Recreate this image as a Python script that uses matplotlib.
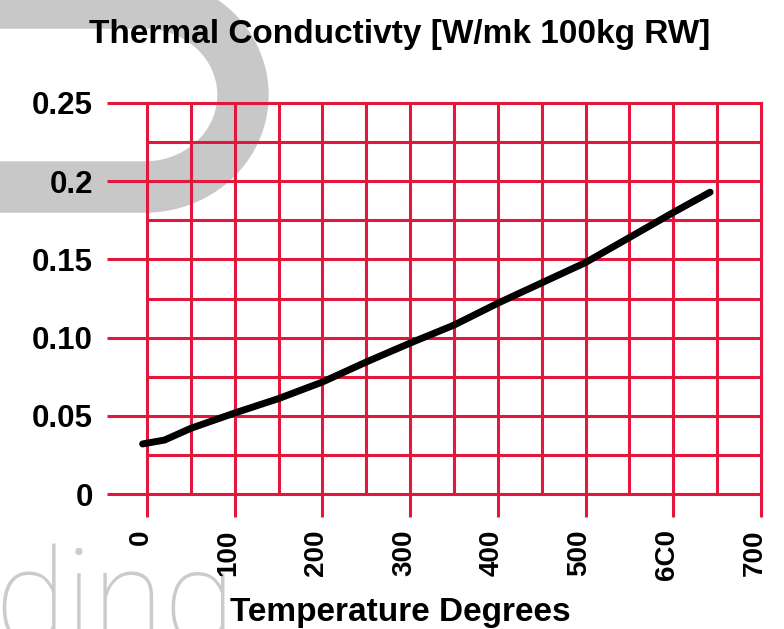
import numpy as np
import matplotlib
matplotlib.use("Agg")
import matplotlib.pyplot as plt
import matplotlib.transforms as mtransforms
from matplotlib.lines import Line2D

# ---------------- data ----------------
temperature = [-5, 20, 50, 100, 150, 200, 250, 300, 350, 400, 450, 500, 550, 600, 642]
conductivity = [0.032, 0.0345, 0.042, 0.0518, 0.061, 0.0716, 0.0844, 0.0965,
                0.108, 0.122, 0.135, 0.148, 0.164, 0.180, 0.193]

x_ticks = [0, 100, 200, 300, 400, 500, 600, 700]
x_tick_labels = ["0", "100", "200", "300", "400", "500", "6C0", "700"]
x_minor = [50, 150, 250, 350, 450, 550, 650]
y_ticks = [0, 0.05, 0.10, 0.15, 0.20, 0.25]
y_tick_labels = ["0", "0.05", "0.10", "0.15", "0.2", "0.25"]
y_minor = [0.025, 0.075, 0.125, 0.175, 0.225]

title = "Thermal Conductivty [W/mk 100kg RW]"
xlabel = "Temperature Degrees"

RED = "#e3173c"
GRAY = "#c8c8c8"
FONT = ["Liberation Sans", "DejaVu Sans"]

W, H = 784, 629
fig = plt.figure(figsize=(W / 100, H / 100), dpi=100)
fig.patch.set_facecolor("white")

# ---------------- watermark (decoration) ----------------
cx, cy = 145, 629 - 95
rx, ry = 98, 92
theta = np.linspace(np.pi / 2, -np.pi / 2, 100)
px = np.concatenate([[-30], cx + rx * np.cos(theta), [-30]])
py = np.concatenate([[cy + ry], cy + ry * np.sin(theta), [cy - ry]])
fig.add_artist(Line2D(px / W, py / H, transform=fig.transFigure, color=GRAY,
                      lw=37, solid_capstyle="butt", solid_joinstyle="round", zorder=-5))
fig.text(-6 / W, -14 / H, "ding", fontsize=94, color="#cbcbcb", family=["Roboto", "DejaVu Sans"],
         fontweight="light", ha="left", va="baseline", zorder=-5)

# ---------------- axes ----------------
ax = fig.add_axes([147 / W, 135 / H, 614 / W, 391 / H])
ax.patch.set_alpha(0)
for s in ax.spines.values():
    s.set_visible(False)

ax.set_xlim(0, 700)
ax.set_ylim(0, 0.25)
ax.set_xticks(x_ticks)
ax.set_xticklabels(x_tick_labels, rotation=90, fontsize=20, fontweight="bold", family=FONT)
ax.set_xticks(x_minor, minor=True)
ax.set_yticks(y_ticks)
ax.set_yticklabels(y_tick_labels, fontsize=22.5, fontweight="bold", family=FONT)
ax.set_yticks(y_minor, minor=True)

ax.grid(which="both", color=RED, lw=2.2)
ax.set_axisbelow(True)
ax.tick_params(axis="y", which="major", length=28.8, width=2.2, color=RED, pad=10)
ax.tick_params(axis="x", which="major", length=16.5, width=2.2, color=RED, pad=9)
ax.tick_params(which="minor", length=0)

for t in (ax.xaxis.get_major_ticks() + ax.xaxis.get_minor_ticks()
          + ax.yaxis.get_major_ticks() + ax.yaxis.get_minor_ticks()):
    t.gridline.set_clip_on(False)

offset = mtransforms.ScaledTranslation(-6 / 100, 0, fig.dpi_scale_trans)
for lab in ax.get_xticklabels():
    lab.set_transform(lab.get_transform() + offset)

ax.plot(temperature, conductivity, color="black", lw=5, solid_capstyle="round",
        solid_joinstyle="round", zorder=5, clip_on=False)

fig.text(400 / W, 1 - 43 / H, title, fontsize=24, fontweight="bold", family=FONT,
         ha="center", va="baseline")
fig.text(400 / W, 1 - 621 / H, xlabel, fontsize=24, fontweight="bold", family=FONT,
         ha="center", va="baseline")

fig.savefig("out.png", dpi=100)
